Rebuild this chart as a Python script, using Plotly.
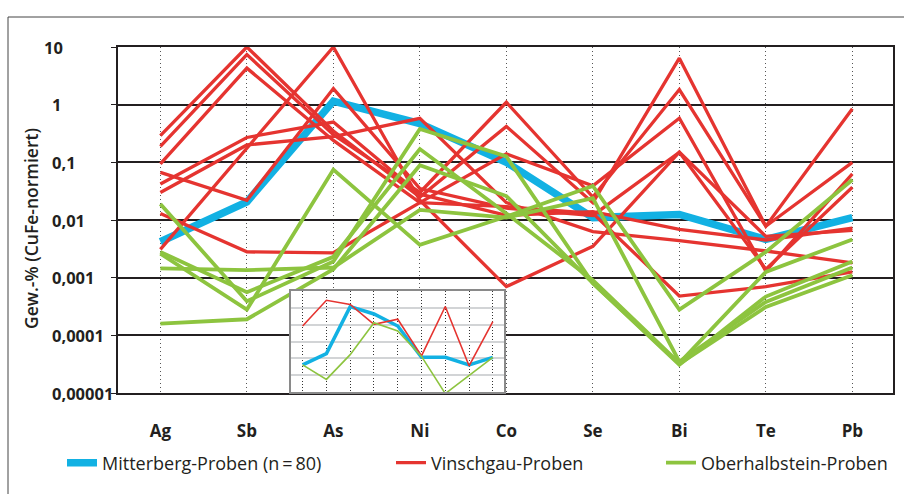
import numpy as np
import plotly.graph_objects as go

elements = ["Ag", "Sb", "As", "Ni", "Co", "Se", "Bi", "Te", "Pb"]

mitterberg = [0.0042, 0.0206, 1.15, 0.47, 0.1, 0.011, 0.0125, 0.0046, 0.011]

vinschgau_1 = [0.29, 10.0, 0.35, 0.025, 0.42, 0.02, 6.4, 0.0078, 0.85]
vinschgau_2 = [0.19, 7.4, 0.30, 0.03, 1.1, 0.025, 1.83, 0.0078, 0.10]
vinschgau_3 = [0.094, 4.3, 0.24, 0.02, 0.14, 0.039, 0.58, 0.0013, 0.063]
vinschgau_4 = [0.067, 0.022, 1.9, 0.035, 0.016, 0.012, 0.15, 0.0014, 0.037]
vinschgau_5 = [0.042, 0.27, 0.5, 0.028, 0.012, 0.014, 0.0069, 0.0045, 0.0072]
vinschgau_6 = [0.030, 0.20, 0.28, 0.58, 0.02, 0.0063, 0.0044, 0.0029, 0.0018]
vinschgau_7 = [0.013, 0.0028, 0.0027, 0.02, 0.017, 0.013, 0.00048, 0.0007, 0.00126]
vinschgau_8 = [0.0031, 0.18, 10.0, 0.022, 0.0007, 0.0035, 0.15, 0.0052, 0.0066]
vinschgau = [vinschgau_1, vinschgau_2, vinschgau_3, vinschgau_4,
             vinschgau_5, vinschgau_6, vinschgau_7, vinschgau_8]

oberhalbstein_1 = [0.00016, 0.00019, 0.0014, 0.089, 0.026, 0.0008, 0.000032, 0.00031, 0.0011]
oberhalbstein_2 = [0.00145, 0.00135, 0.0015, 0.015, 0.011, 0.024, 0.000035, 0.00038, 0.0015]
oberhalbstein_3 = [0.019, 0.00039, 0.0019, 0.38, 0.127, 0.0008, 0.000031, 0.00047, 0.0019]
oberhalbstein_4 = [0.0028, 0.00056, 0.0023, 0.17, 0.013, 0.0009, 0.000033, 0.00126, 0.0046]
oberhalbstein_5 = [0.0026, 0.00028, 0.075, 0.0037, 0.0115, 0.039, 0.00028, 0.0028, 0.05]
oberhalbstein = [oberhalbstein_1, oberhalbstein_2, oberhalbstein_3,
                 oberhalbstein_4, oberhalbstein_5]

inset_red = [0.083, 2.8, 1.6, 0.105, 0.21, 0.0014, 1.2, 0.00036, 0.15]
inset_blue = [0.00041, 0.0019, 1.17, 0.43, 0.083, 0.00115, 0.00115, 0.00041, 0.00115]
inset_green = [0.00041, 0.000056, 0.00166, 0.13, 0.042, 0.0013, 0.000008, 0.0001, 0.00115]

y_ticks = [10, 1, 0.1, 0.01, 0.001, 0.0001, 0.00001]
y_ticklabels = ["10", "1", "0,1", "0,01", "0,001", "0,0001", "0,00001"]

names = ["Mitterberg-Proben (n\u2009=\u200980)", "Vinschgau-Proben", "Oberhalbstein-Proben"]

BLUE = "#12b1e3"
RED = "#e53430"
GREEN = "#8dc43f"
DARK = "#231f20"
FONT = "Open Sans"

fig = go.Figure()

fig.add_trace(go.Scatter(x=elements, y=mitterberg, mode="lines", name=names[0],
                         line=dict(color=BLUE, width=7.5), legend="legend"))
for i, s in enumerate(vinschgau):
    fig.add_trace(go.Scatter(x=elements, y=s, mode="lines", name=names[1],
                             legendgroup="v", showlegend=(i == 0), legend="legend2",
                             line=dict(color=RED, width=3.3)))
for i, s in enumerate(oberhalbstein):
    fig.add_trace(go.Scatter(x=elements, y=s, mode="lines", name=names[2],
                             legendgroup="o", showlegend=(i == 0), legend="legend3",
                             line=dict(color=GREEN, width=3.8)))

# inset
fig.add_trace(go.Scatter(x=elements, y=inset_blue, mode="lines", xaxis="x2", yaxis="y2",
                         showlegend=False, line=dict(color=BLUE, width=3.5)))
fig.add_trace(go.Scatter(x=elements, y=inset_red, mode="lines", xaxis="x2", yaxis="y2",
                         showlegend=False, line=dict(color=RED, width=1.6)))
fig.add_trace(go.Scatter(x=elements, y=inset_green, mode="lines", xaxis="x2", yaxis="y2",
                         showlegend=False, line=dict(color=GREEN, width=1.6)))

L, R, T, B = 118, 11, 47, 101
W, H = 904, 494
pw, ph = W - L - R, H - T - B


def px_x(px):
    return (px - L) / pw


def px_y(py):
    return (H - B - py) / ph


annotations = []
for v, lab in zip(y_ticks, y_ticklabels):
    annotations.append(dict(x=px_x(42 if lab == "10" else 50), xref="paper", xanchor="left",
                            y=np.log10(v), yref="y", yanchor="middle", text=lab,
                            showarrow=False, font=dict(family=FONT, size=16.5, color=DARK,
                                                       weight="bold")))
annotations.append(dict(x=px_x(31), xref="paper", y=px_y(229), yref="paper",
                        text="Gew.-% (CuFe-normiert)", textangle=-90, showarrow=False,
                        xanchor="center", yanchor="middle",
                        font=dict(family=FONT, size=17.5, color=DARK, weight=600)))

legend_common = dict(orientation="h", yanchor="middle", y=px_y(463), xanchor="left",
                     bgcolor="rgba(0,0,0,0)", font=dict(family=FONT, size=18, color=DARK))

fig.update_layout(
    width=W, height=H,
    margin=dict(l=L, r=R, t=T, b=B, autoexpand=False),
    paper_bgcolor="white", plot_bgcolor="white",
    showlegend=True,
    legend=dict(x=px_x(62), **legend_common),
    legend2=dict(x=px_x(391), **legend_common),
    legend3=dict(x=px_x(661), **legend_common),
    xaxis=dict(type="category", range=[-0.49, 8.47], showgrid=True, griddash="1px,3px",
               gridcolor="#555555", gridwidth=1.2, showline=True, linecolor=DARK,
               linewidth=2, mirror=True, ticks="", ticklabelstandoff=22,
               tickfont=dict(family=FONT, size=17, color=DARK, weight="bold")),
    yaxis=dict(type="log", range=[-5, 1], dtick=1, showgrid=True, gridcolor=DARK,
               gridwidth=2, showline=True, linecolor=DARK, linewidth=2, mirror=True,
               ticks="outside", ticklen=5, tickcolor=DARK, showticklabels=False),
    xaxis2=dict(type="category", domain=[px_x(291), px_x(504)], anchor="y2",
                range=[-0.49, 8.47], showgrid=True, griddash="1px,2px", gridcolor="#333333",
                gridwidth=1.2, showline=True, linecolor="#8a8a8a", linewidth=2, mirror=True,
                showticklabels=False, ticks=""),
    yaxis2=dict(type="log", domain=[px_y(392), px_y(291)], anchor="x2", range=[-5, 1],
                dtick=1, showgrid=True, gridcolor="#d2d4d6", gridwidth=1.5,
                showline=True, linecolor="#8a8a8a", linewidth=2, mirror=True,
                showticklabels=False, ticks=""),
    annotations=annotations,
    shapes=[dict(type="rect", xref="paper", yref="paper", x0=px_x(8), x1=px_x(960),
                 y0=px_y(560), y1=px_y(17), line=dict(color="#444444", width=1),
                 layer="below")],
)

fig.write_html("out.html", config={"displayModeBar": False},
               post_script="document.body.style.margin='0px';"
                           "document.documentElement.style.overflow='hidden';")
